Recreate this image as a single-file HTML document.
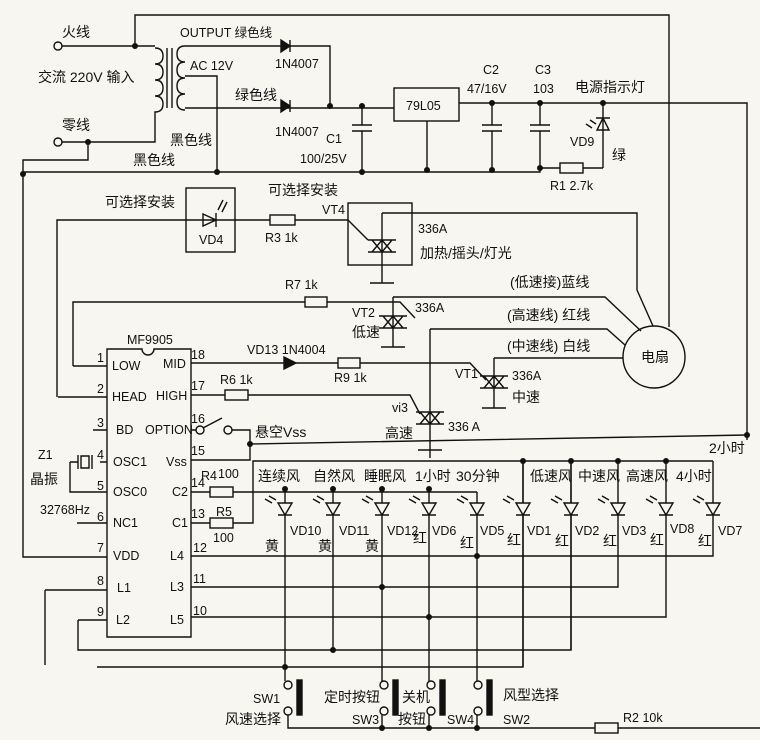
<!DOCTYPE html>
<html><head><meta charset="utf-8"><style>
html,body{margin:0;padding:0;background:#f7f6f1;}
svg{display:block;}
text{font-family:"Liberation Sans","Noto Sans CJK SC",sans-serif;font-size:14px;fill:#111;}
.s{font-size:12.5px;}
</style></head><body>
<svg width="760" height="740" viewBox="0 0 760 740" xmlns="http://www.w3.org/2000/svg">
<defs>
<g id="led"><path d="M-7 0h14l-7 12z M-7 12h14"/><path d="M-20 -4l7 4M-16 -7l7 4" fill="none"/></g>
</defs>
<rect width="760" height="740" fill="#f7f6f1"/>
<g stroke="#111" stroke-width="1.4" fill="none">
<!-- mains -->
<circle cx="58" cy="46" r="4"/><circle cx="58" cy="142" r="4"/>
<path d="M62 46H155M135 46V15H669V327"/>
<path d="M155 48q8 0 8 8t-8 8q8 0 8 8t-8 8q8 0 8 8t-8 8q8 0 8 8t-8 8V142H62"/>
<path d="M167 48V108M172 48V108"/>
<path d="M185 46q-8 0 -8 8t8 8q-8 0 -8 8t8 8q-8 0 -8 8t8 8q-8 0 -8 8t8 8"/>
<path d="M185 46H330V106M185 76H217V172M185 108H394"/>
<path d="M88 142V160H23V557H107"/>
<path d="M23 172H540V168H560M583 168H603"/>
<!-- diodes -->
<path d="M290 40V52M290 46l-9-6v12z" fill="#111"/>
<path d="M290 100V112M290 106l-9-6v12z" fill="#111"/>
<!-- 79L05 -->
<rect x="394" y="88" width="65" height="33"/>
<path d="M427 121V170M459 103H747V440"/>
<!-- caps -->
<path d="M362 106V125M352 125H372M352 131H372M362 131V172"/>
<path d="M492 103V125M482 125H502M482 131H502M492 131V170"/>
<path d="M540 103V125M530 125H550M530 131H550M540 131V168"/>
<rect x="560" y="163" width="23" height="10"/>
<path d="M603 103V168"/>
<path d="M603 118l-6 12h12z M596 118H610"/>
<path d="M590 120l6 4M586 124l6 4"/>
<!-- VD4 / R3 / VT4 -->
<rect x="186" y="188" width="49" height="64"/>
<path d="M57 397V220H348M203 214v12l13-6z M216 213V227"/>
<path d="M218 210l5-10M222 212l5-10"/>
<rect x="270" y="215" width="25" height="10" fill="#f7f6f1"/>
<rect x="348" y="203" width="64" height="62"/>
<path d="M382 213H637V290L653 326M382 213V283M368 252h28M368 240h28M372 240l10 12 10-12M372 252l10-12 10 12M370 283h24"/>
<path d="M348 220L368 240"/>
<!-- VT2 -->
<path d="M73 366V302H400L415 318M393 297H605L641 331M393 297V347M379 328h28M379 316h28M383 316l10 12 10-12M383 328l10-12 10 12M381 347h24"/>
<rect x="305" y="297" width="22" height="10" fill="#f7f6f1"/>
<!-- motor -->
<circle cx="654" cy="357" r="31"/>
<path d="M430 329H607L625 345M430 329V458M416 424h28M416 412h28M420 412l10 12 10-12M420 424l10-12 10 12M418 450h24"/>
<path d="M494 358H623M494 358V408M480 388h28M480 376h28M484 376l10 12 10-12M484 388l10-12 10 12M482 408h24"/>
<!-- chip -->
<path d="M107 349H142a6 6 0 0 0 12 0H191V637H107z"/>
<path d="M58 397H107M73 366H107M93 430H107M77 523H107"/>
<path d="M100 462H107M92 455V469M70 462H78M78 455V469M81 456h8v12h-8z M70 462V492H107"/>
<path d="M45 590H107M45 590V665M78 620H107M78 620V650H571V461M97 667H523V461"/>
<path d="M191 363H284M296 363H338M360 363H470L486 380" />
<path d="M284 357V369M296 363l-12-6v12z" fill="#111"/>
<rect x="338" y="358" width="22" height="10"/>
<path d="M191 395H225M248 395H410L420 414"/>
<rect x="225" y="390" width="23" height="10"/>
<circle cx="200" cy="430" r="4"/><circle cx="228" cy="430" r="4"/>
<path d="M191 430H196M203 428L222 418M232 430H250V460H191M250 444L747 435"/>
<!-- R4 R5 -->
<path d="M191 492H210M233 492H477M191 523H210M233 523H253V461H713"/>
<rect x="210" y="487" width="23" height="10"/><rect x="210" y="518" width="23" height="10"/>
<path d="M191 556H713V461M191 587H618V461M191 617H666V461"/>
<path d="M285 489V667M333 489V650M382 489V685M429 489V685M477 492V685M523 461V667M571 461V650"/>
<!-- bottom -->
<path d="M285 667V681M288 715V728H595M618 728H760M382 715V728M429 715V728M477 715V728"/>
<rect x="595" y="723" width="23" height="10"/>
</g>
<g fill="#111">
<circle cx="135" cy="46" r="3"/><circle cx="88" cy="142" r="3"/><circle cx="23" cy="174" r="3"/>
<circle cx="217" cy="172" r="3"/><circle cx="330" cy="106" r="3"/><circle cx="362" cy="106" r="3"/><circle cx="362" cy="172" r="3"/>
<circle cx="427" cy="170" r="3"/><circle cx="492" cy="103" r="3"/><circle cx="540" cy="103" r="3"/><circle cx="603" cy="103" r="3"/>
<circle cx="492" cy="170" r="3"/><circle cx="540" cy="168" r="3"/><circle cx="747" cy="435" r="3"/><circle cx="250" cy="444" r="3"/>
<circle cx="285" cy="489" r="3"/><circle cx="333" cy="489" r="3"/><circle cx="382" cy="489" r="3"/><circle cx="429" cy="489" r="3"/>
<circle cx="523" cy="461" r="3"/><circle cx="571" cy="461" r="3"/><circle cx="618" cy="461" r="3"/><circle cx="666" cy="461" r="3"/>
<circle cx="477" cy="556" r="3"/><circle cx="382" cy="587" r="3"/><circle cx="429" cy="617" r="3"/><circle cx="333" cy="650" r="3"/><circle cx="285" cy="667" r="3"/>
<circle cx="382" cy="728" r="3"/><circle cx="429" cy="728" r="3"/><circle cx="477" cy="728" r="3"/>
</g>
<g stroke="#111" stroke-width="1.4" fill="#f7f6f1">
<use href="#led" x="285" y="503"/><use href="#led" x="333" y="503"/><use href="#led" x="382" y="503"/><use href="#led" x="429" y="503"/><use href="#led" x="477" y="503"/>
<use href="#led" x="523" y="503"/><use href="#led" x="571" y="503"/><use href="#led" x="618" y="503"/><use href="#led" x="666" y="503"/><use href="#led" x="713" y="503"/>
</g>
<!-- switches -->
<g stroke="#111" stroke-width="1.4" fill="#f7f6f1">
<circle cx="288" cy="685" r="4"/><circle cx="288" cy="711" r="4"/><rect x="297" y="680" width="5" height="35" fill="#111"/>
<circle cx="384" cy="685" r="4"/><circle cx="384" cy="711" r="4"/><rect x="393" y="680" width="5" height="35" fill="#111"/>
<circle cx="431" cy="685" r="4"/><circle cx="431" cy="711" r="4"/><rect x="440" y="680" width="5" height="35" fill="#111"/>
<circle cx="478" cy="685" r="4"/><circle cx="478" cy="711" r="4"/><rect x="487" y="680" width="5" height="35" fill="#111"/>
</g>
<!-- labels -->
<text x="62" y="37">火线</text><text x="38" y="82">交流 220V 输入</text><text x="62" y="130">零线</text>
<text x="180" y="37" class="s">OUTPUT 绿色线</text><text x="190" y="70" class="s">AC  12V</text>
<text x="275" y="68" class="s">1N4007</text><text x="235" y="100">绿色线</text><text x="275" y="136" class="s">1N4007</text>
<text x="170" y="145">黑色线</text><text x="133" y="165">黑色线</text>
<text x="326" y="143" class="s">C1</text><text x="300" y="163" class="s">100/25V</text>
<text x="406" y="110" class="s">79L05</text>
<text x="483" y="74" class="s">C2</text><text x="467" y="93" class="s">47/16V</text>
<text x="535" y="74" class="s">C3</text><text x="533" y="93" class="s">103</text>
<text x="575" y="92">电源指示灯</text><text x="570" y="146" class="s">VD9</text><text x="612" y="160">绿</text>
<text x="550" y="190" class="s">R1  2.7k</text>
<text x="105" y="207">可选择安装</text><text x="268" y="195">可选择安装</text>
<text x="199" y="244" class="s">VD4</text><text x="265" y="242" class="s">R3  1k</text><text x="322" y="214" class="s">VT4</text>
<text x="418" y="233" class="s">336A</text><text x="420" y="258">加热/摇头/灯光</text>
<text x="285" y="289" class="s">R7  1k</text><text x="352" y="317" class="s">VT2</text><text x="352" y="337">低速</text><text x="415" y="312" class="s">336A</text>
<text x="510" y="287">(低速接)蓝线</text><text x="507" y="320">(高速线) 红线</text><text x="507" y="351">(中速线) 白线</text>
<text x="641" y="362">电扇</text>
<text x="455" y="378" class="s">VT1</text><text x="512" y="380" class="s">336A</text><text x="512" y="402">中速</text>
<text x="392" y="412" class="s">vi3</text><text x="385" y="438">高速</text><text x="448" y="431" class="s">336 A</text>
<text x="127" y="344" class="s">MF9905</text>
<text x="97" y="362" class="s">1</text><text x="112" y="370" class="s">LOW</text><text x="97" y="393" class="s">2</text><text x="112" y="401" class="s">HEAD</text>
<text x="97" y="427" class="s">3</text><text x="116" y="434" class="s">BD</text><text x="97" y="459" class="s">4</text><text x="113" y="466" class="s">OSC1</text>
<text x="97" y="490" class="s">5</text><text x="113" y="496" class="s">OSC0</text><text x="97" y="521" class="s">6</text><text x="113" y="527" class="s">NC1</text>
<text x="97" y="552" class="s">7</text><text x="113" y="560" class="s">VDD</text><text x="97" y="585" class="s">8</text><text x="117" y="592" class="s">L1</text>
<text x="97" y="616" class="s">9</text><text x="116" y="624" class="s">L2</text>
<text x="163" y="368" class="s">MID</text><text x="156" y="400" class="s">HIGH</text><text x="145" y="434" class="s">OPTION</text><text x="166" y="466" class="s">Vss</text>
<text x="172" y="496" class="s">C2</text><text x="172" y="527" class="s">C1</text><text x="170" y="560" class="s">L4</text><text x="170" y="591" class="s">L3</text><text x="170" y="624" class="s">L5</text>
<text x="191" y="359" class="s">18</text><text x="191" y="390" class="s">17</text><text x="191" y="423" class="s">16</text><text x="191" y="455" class="s">15</text>
<text x="191" y="487" class="s">14</text><text x="191" y="518" class="s">13</text><text x="193" y="552" class="s">12</text><text x="193" y="583" class="s">11</text><text x="193" y="615" class="s">10</text>
<text x="38" y="459" class="s">Z1</text><text x="30" y="484">晶振</text><text x="40" y="514" class="s">32768Hz</text>
<text x="247" y="354" class="s">VD13  1N4004</text><text x="334" y="382" class="s">R9  1k</text><text x="220" y="384" class="s">R6  1k</text>
<text x="255" y="437">悬空Vss</text>
<text x="201" y="480" class="s">R4</text><text x="218" y="478" class="s">100</text><text x="216" y="516" class="s">R5</text><text x="213" y="542" class="s">100</text>
<text x="258" y="481">连续风</text><text x="313" y="481">自然风</text><text x="364" y="481">睡眠风</text><text x="415" y="481">1小时</text><text x="456" y="481">30分钟</text>
<text x="530" y="481">低速风</text><text x="578" y="481">中速风</text><text x="626" y="481">高速风</text><text x="676" y="481">4小时</text>
<text x="709" y="453">2小时</text>
<text x="290" y="535" class="s">VD10</text><text x="339" y="535" class="s">VD11</text><text x="387" y="535" class="s">VD12</text><text x="432" y="535" class="s">VD6</text><text x="480" y="535" class="s">VD5</text>
<text x="527" y="535" class="s">VD1</text><text x="575" y="535" class="s">VD2</text><text x="622" y="535" class="s">VD3</text><text x="670" y="533" class="s">VD8</text><text x="718" y="535" class="s">VD7</text>
<text x="265" y="551">黄</text><text x="318" y="551">黄</text><text x="365" y="551">黄</text><text x="413" y="543">红</text><text x="460" y="548">红</text>
<text x="507" y="545">红</text><text x="555" y="546">红</text><text x="603" y="546">红</text><text x="650" y="545">红</text><text x="698" y="546">红</text>
<text x="253" y="703" class="s">SW1</text><text x="225" y="724">风速选择</text>
<text x="324" y="702">定时按钮</text><text x="352" y="724" class="s">SW3</text>
<text x="402" y="702">关机</text><text x="398" y="724">按钮</text><text x="447" y="724" class="s">SW4</text>
<text x="503" y="700">风型选择</text><text x="503" y="724" class="s">SW2</text>
<text x="623" y="722" class="s">R2  10k</text>
</svg>
</body></html>
